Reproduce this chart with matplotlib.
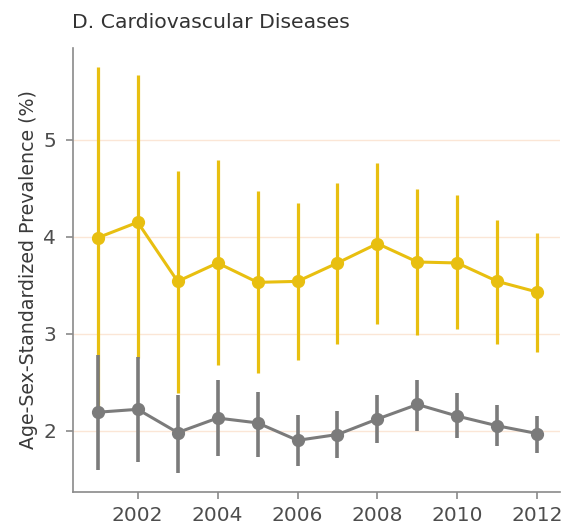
import matplotlib
matplotlib.use("Agg")
import matplotlib.pyplot as plt

years = [2001, 2002, 2003, 2004, 2005, 2006, 2007, 2008, 2009, 2010, 2011, 2012]

yellow_mean = [3.99, 4.15, 3.54, 3.73, 3.53, 3.54, 3.73, 3.93, 3.74, 3.73, 3.54, 3.43]
yellow_low = [2.20, 2.75, 2.39, 2.68, 2.59, 2.73, 2.89, 3.10, 2.99, 3.05, 2.89, 2.81]
yellow_high = [5.75, 5.67, 4.68, 4.79, 4.47, 4.35, 4.56, 4.76, 4.49, 4.43, 4.17, 4.04]

gray_mean = [2.19, 2.22, 1.98, 2.13, 2.08, 1.90, 1.96, 2.12, 2.27, 2.15, 2.05, 1.97]
gray_low = [1.59, 1.68, 1.56, 1.74, 1.73, 1.64, 1.72, 1.87, 2.00, 1.92, 1.84, 1.77]
gray_high = [2.78, 2.76, 2.37, 2.52, 2.40, 2.16, 2.20, 2.37, 2.52, 2.39, 2.26, 2.15]

y_ticks = [2, 3, 4, 5]
x_ticks = [2002, 2004, 2006, 2008, 2010, 2012]

title = "D. Cardiovascular Diseases"
ylabel = "Age-Sex-Standardized Prevalence (%)"

plt.rcParams['font.family'] = ['DejaVu Sans']

YEL = '#E8BF10'
GRY = '#7B7B7B'

fig = plt.figure(figsize=(5.64, 5.31), dpi=100)
ax = fig.add_axes([0.129, 0.074, 0.864, 0.836])

for c, m, lo, hi, z, elw in [(YEL, yellow_mean, yellow_low, yellow_high, 2, 2.3),
                             (GRY, gray_mean, gray_low, gray_high, 3, 2.6)]:
    ax.vlines(years, lo, hi, color=c, lw=elw, zorder=z)
    ax.plot(years, m, color=c, lw=2.2, marker='o', ms=8.5, zorder=z + 0.5)

ax.set_xlim(2000.375, 2012.57)
ax.set_ylim(1.37, 5.95)
ax.set_xticks(x_ticks)
ax.set_yticks(y_ticks)
ax.set_xticklabels([str(t) for t in x_ticks])
ax.set_yticklabels([str(t) for t in y_ticks])

for t in y_ticks:
    ax.axhline(t, color='#FBE6D6', lw=1.0, zorder=0)

for s in ['top', 'right']:
    ax.spines[s].set_visible(False)
for s in ['left', 'bottom']:
    ax.spines[s].set_color('#8A8A8A')
    ax.spines[s].set_linewidth(1.2)

ax.tick_params(axis='both', colors='#8A8A8A', labelcolor='#4D4D4D',
               labelsize=14.5, length=5, width=1.2, direction='out')
ax.tick_params(axis='x', pad=5)
ax.tick_params(axis='y', pad=7)

ax.set_ylabel(ylabel, fontsize=13.7, color='#3A3A3A', labelpad=4)
fig.text(0.127, 0.957, title, fontsize=14.7, color='#333333', ha='left', va='center')

fig.savefig("out.png", dpi=100)
